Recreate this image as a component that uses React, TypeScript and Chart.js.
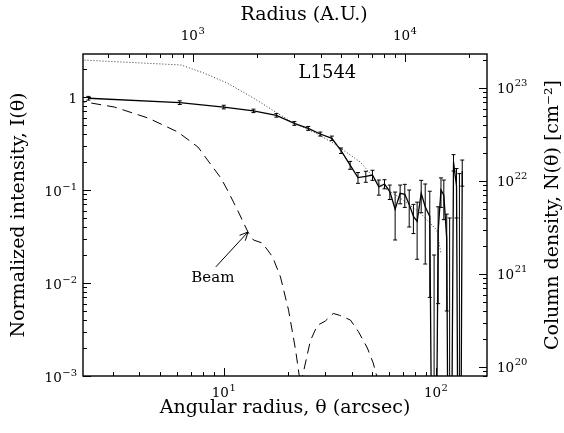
import React, { useEffect, useRef } from "react";
import { Chart, registerables } from "chart.js";

Chart.register(...registerables);

const FONT = "'DejaVu Serif', serif";

// Observed radial profile: angular radius (arcsec), normalized intensity, 1-sigma error
const thetaObs = [2.3, 6.2, 10.0, 13.8, 17.7, 21.5, 25.0, 28.5, 32.3, 35.7, 39.4, 42.9, 46.7, 50.2, 53.8, 57.2, 60.6, 64.2, 67.8, 71.3, 74.8, 78.3, 81.5, 85.2, 89.0, 93.5, 98.0, 102.4, 105.6, 108.9, 112.4, 116.0, 121.0, 125.0, 129.0, 133.0];
const intensityObs = [0.97, 0.87, 0.78, 0.71, 0.635, 0.52, 0.46, 0.40, 0.36, 0.265, 0.185, 0.136, 0.14, 0.145, 0.108, 0.116, 0.096, 0.062, 0.092, 0.09, 0.07, 0.052, 0.046, 0.092, 0.066, 0.052, -0.01, 0.036, 0.10, 0.088, 0.03, -0.01, 0.20, 0.11, -0.01, 0.16];
const intensityErr = [0.045, 0.04, 0.035, 0.03, 0.028, 0.024, 0.022, 0.02, 0.02, 0.018, 0.018, 0.018, 0.019, 0.018, 0.02, 0.013, 0.017, 0.033, 0.021, 0.025, 0.03, 0.018, 0.028, 0.035, 0.05, 0.045, 0.03, 0.03, 0.035, 0.04, 0.025, 0.06, 0.04, 0.06, 0.16, 0.05];

// Model profile (dotted)
const thetaModel = [2.0, 6.28, 8.05, 10.4, 13.8, 17.9, 21.3, 26.5, 32.8, 44.0, 54.6, 67.8, 84.1, 101, 105.5];
const intensityModel = [2.52, 2.21, 1.81, 1.41, 0.975, 0.67, 0.525, 0.42, 0.32, 0.2, 0.113, 0.082, 0.057, 0.037, 0.021];

// Beam profile (dashed)
const thetaBeam = [2.0, 3.05, 4.4, 6.08, 7.55, 9.68, 10.4, 11.6, 13.0, 13.8, 15.2, 17.0, 18.5, 20.2, 21.8, 23.0, 25.6, 27.6, 30.1, 32.8, 35.1, 39.5, 43.1, 47.5, 50.6, 54.0];
const intensityBeam = [0.92, 0.78, 0.594, 0.42, 0.29, 0.135, 0.10, 0.061, 0.0353, 0.029, 0.0269, 0.019, 0.0116, 0.0051, 0.0019, 0.0008, 0.0024, 0.0035, 0.0039, 0.0047, 0.0045, 0.004, 0.003, 0.002, 0.00138, 0.0008];

// Axis limits
const thetaLimits = [2.17, 174];
const intensityLimits = [0.001, 2.9];
const auPerArcsec = 140;
const columnLimits = [8.0e19, 2.32e23];

// Tick labels (decade exponents)
const bottomTickExps = [1, 2];
const topTickExps = [3, 4];
const leftTickExps = [0, -1, -2, -3];
const rightTickExps = [20, 21, 22, 23];

// Annotations (data coordinates)
const sourceName = "L1544";
const sourceLabelPos = [30.8, 1.81];
const beamLabel = "Beam";
const beamLabelPos = [8.88, 0.0113];
const beamArrowTail = [9.17, 0.0149];
const beamArrowTip = [13.0, 0.0353];

const titles = {
  bottom: "Angular radius, \u03b8 (arcsec)",
  left: "Normalized intensity, I(\u03b8)",
  top: "Radius (A.U.)",
  right: "Column density, N(\u03b8) [cm\u207b\u00b2]",
};

function tickValues(min: number, max: number) {
  const out: { v: number; major: boolean }[] = [];
  for (let e = Math.floor(Math.log10(min)); e <= Math.ceil(Math.log10(max)); e++) {
    for (let m = 1; m <= 9; m++) {
      const v = m * Math.pow(10, e);
      if (v >= min * 0.9999 && v <= max * 1.0001) out.push({ v, major: m === 1 });
    }
  }
  return out;
}

// draws "10^e" with a raised exponent; (x, y) is the anchor, y = vertical middle of the digits
function drawPow(ctx: CanvasRenderingContext2D, e: number, x: number, y: number, align: "left" | "center" | "right") {
  const base = e === 0 ? "1" : "10";
  const exp = e === 0 ? "" : String(e).replace("-", "\u2212");
  ctx.font = `13.5px ${FONT}`;
  const wb = ctx.measureText(base).width;
  ctx.font = `10px ${FONT}`;
  const we = exp ? ctx.measureText(exp).width + 0.5 : 0;
  const w = wb + we;
  let x0 = x;
  if (align === "center") x0 = x - w / 2;
  else if (align === "right") x0 = x - w;
  const baseline = y + 5;
  ctx.textAlign = "left";
  ctx.textBaseline = "alphabetic";
  ctx.font = `13.5px ${FONT}`;
  ctx.fillText(base, x0, baseline);
  if (exp) {
    ctx.font = `10px ${FONT}`;
    ctx.fillText(exp, x0 + wb + 0.5, baseline - 6.5);
  }
}

const overlay = {
  id: "overlay",
  afterDatasetsDraw(chart: any) {
    const ctx = chart.ctx as CanvasRenderingContext2D;
    const { left, right, top, bottom } = chart.chartArea;
    const sx = chart.scales.x, sy = chart.scales.y, st = chart.scales.xTop, sr = chart.scales.yRight;

    // error bars
    ctx.save();
    ctx.beginPath();
    ctx.rect(left, top, right - left, bottom - top);
    ctx.clip();
    ctx.strokeStyle = "#000";
    ctx.lineWidth = 1;
    thetaObs.forEach((t, i) => {
      const v = intensityObs[i], e = intensityErr[i];
      const hi = v + e, lo = v - e;
      if (hi <= 0) return;
      const px = sx.getPixelForValue(t);
      const pHi = sy.getPixelForValue(hi);
      const pLo = lo > 0 ? sy.getPixelForValue(lo) : bottom + 10;
      ctx.beginPath();
      ctx.moveTo(px, pHi);
      ctx.lineTo(px, pLo);
      ctx.moveTo(px - 2, pHi);
      ctx.lineTo(px + 2, pHi);
      if (lo > 0) {
        ctx.moveTo(px - 2, pLo);
        ctx.lineTo(px + 2, pLo);
      }
      ctx.stroke();
    });
    ctx.restore();

    // box and inward ticks
    ctx.save();
    ctx.strokeStyle = "#000";
    ctx.lineWidth = 1;
    const MAJ = 8, MIN = 4;
    ctx.beginPath();
    tickValues(sx.min, sx.max).forEach(({ v, major }) => {
      const p = Math.round(sx.getPixelForValue(v)) + 0.5;
      ctx.moveTo(p, bottom); ctx.lineTo(p, bottom - (major ? MAJ : MIN));
    });
    tickValues(st.min, st.max).forEach(({ v, major }) => {
      const p = Math.round(st.getPixelForValue(v)) + 0.5;
      ctx.moveTo(p, top); ctx.lineTo(p, top + (major ? MAJ : MIN));
    });
    tickValues(sy.min, sy.max).forEach(({ v, major }) => {
      const p = Math.round(sy.getPixelForValue(v)) + 0.5;
      ctx.moveTo(left, p); ctx.lineTo(left + (major ? MAJ : MIN), p);
    });
    tickValues(sr.min, sr.max).forEach(({ v, major }) => {
      const p = Math.round(sr.getPixelForValue(v)) + 0.5;
      ctx.moveTo(right, p); ctx.lineTo(right - (major ? MAJ : MIN), p);
    });
    ctx.stroke();
    ctx.lineWidth = 1.4;
    ctx.strokeRect(left, top, right - left, bottom - top);

    // tick labels
    ctx.fillStyle = "#000";
    bottomTickExps.forEach((e) => drawPow(ctx, e, sx.getPixelForValue(Math.pow(10, e)), bottom + 16, "center"));
    topTickExps.forEach((e) => drawPow(ctx, e, st.getPixelForValue(Math.pow(10, e)), top - 19, "center"));
    leftTickExps.forEach((e) => drawPow(ctx, e, left - 6, sy.getPixelForValue(Math.pow(10, e)) + 1, "right"));
    rightTickExps.forEach((e) => drawPow(ctx, e, right + 10, sr.getPixelForValue(Math.pow(10, e)), "left"));

    // annotations
    ctx.textAlign = "center";
    ctx.textBaseline = "middle";
    ctx.font = `18px ${FONT}`;
    ctx.fillText(sourceName, sx.getPixelForValue(sourceLabelPos[0]), sy.getPixelForValue(sourceLabelPos[1]));
    ctx.font = `15px ${FONT}`;
    ctx.fillText(beamLabel, sx.getPixelForValue(beamLabelPos[0]), sy.getPixelForValue(beamLabelPos[1]));
    const tx = sx.getPixelForValue(beamArrowTail[0]), ty = sy.getPixelForValue(beamArrowTail[1]);
    const hx = sx.getPixelForValue(beamArrowTip[0]), hy = sy.getPixelForValue(beamArrowTip[1]);
    const ang = Math.atan2(hy - ty, hx - tx);
    ctx.lineWidth = 1;
    ctx.beginPath();
    ctx.moveTo(tx, ty);
    ctx.lineTo(hx, hy);
    const L = 9, a = 0.45;
    ctx.moveTo(hx - L * Math.cos(ang - a), hy - L * Math.sin(ang - a));
    ctx.lineTo(hx, hy);
    ctx.lineTo(hx - L * Math.cos(ang + a), hy - L * Math.sin(ang + a));
    ctx.stroke();

    // top and right titles
    ctx.textAlign = "center";
    ctx.textBaseline = "middle";
    ctx.font = `19px ${FONT}`;
    ctx.fillText(titles.top, 304, 15);
    ctx.translate(553, (top + bottom) / 2);
    ctx.rotate(-Math.PI / 2);
    ctx.fillText(titles.right, 0, 0);
    ctx.restore();
  },
};

export default function App() {
  const ref = useRef<HTMLCanvasElement | null>(null);
  useEffect(() => {
    if (!ref.current) return;
    const toPts = (xs: number[], ys: number[]) => xs.map((x, i) => ({ x, y: ys[i] > 0 ? ys[i] : 1e-7 }));
    const titleFont = { family: FONT, size: 19 };
    const noTicks = { display: false };
    const chart = new Chart(ref.current, {
      type: "line",
      data: {
        datasets: [
          { data: toPts(thetaModel, intensityModel), borderColor: "#333", borderWidth: 1, borderDash: [1, 2], pointRadius: 0, xAxisID: "x", yAxisID: "y" },
          { data: toPts(thetaBeam, intensityBeam), borderColor: "#000", borderWidth: 1, borderDash: [10, 6], pointRadius: 0, xAxisID: "x", yAxisID: "y" },
          { data: toPts(thetaObs, intensityObs), borderColor: "#000", borderWidth: 1.3, pointRadius: 0, xAxisID: "x", yAxisID: "y" },
        ],
      },
      options: {
        responsive: false,
        animation: false,
        devicePixelRatio: 1,
        events: [],
        layout: { padding: 0 },
        plugins: { legend: { display: false }, tooltip: { enabled: false } },
        scales: {
          x: {
            type: "logarithmic", position: "bottom", min: thetaLimits[0], max: thetaLimits[1],
            grid: { display: false, drawTicks: false }, border: { display: false }, ticks: noTicks,
            title: { display: true, text: titles.bottom, color: "#000", font: titleFont, padding: { top: 0, bottom: 14 } },
            afterFit: (s: any) => { s.height = 57; },
          },
          xTop: {
            type: "logarithmic", position: "top", min: thetaLimits[0] * auPerArcsec, max: thetaLimits[1] * auPerArcsec,
            grid: { display: false, drawTicks: false }, border: { display: false }, ticks: noTicks,
            afterFit: (s: any) => { s.height = 54; },
          },
          y: {
            type: "logarithmic", position: "left", min: intensityLimits[0], max: intensityLimits[1],
            grid: { display: false, drawTicks: false }, border: { display: false }, ticks: noTicks,
            title: { display: true, text: titles.left, color: "#000", font: titleFont, padding: { top: 8, bottom: 0 } },
            afterFit: (s: any) => { s.width = 83; },
          },
          yRight: {
            type: "logarithmic", position: "right", min: columnLimits[0], max: columnLimits[1],
            grid: { display: false, drawTicks: false }, border: { display: false }, ticks: noTicks,
            afterFit: (s: any) => { s.width = 77; },
          },
        },
      } as any,
      plugins: [overlay],
    });
    return () => chart.destroy();
  }, []);
  return (
    <div style={{ position: "absolute", left: 0, top: 0, width: 564, height: 433, background: "#fff" }}>
      <canvas ref={ref} width={564} height={433} style={{ width: 564, height: 433, display: "block" }} />
    </div>
  );
}
